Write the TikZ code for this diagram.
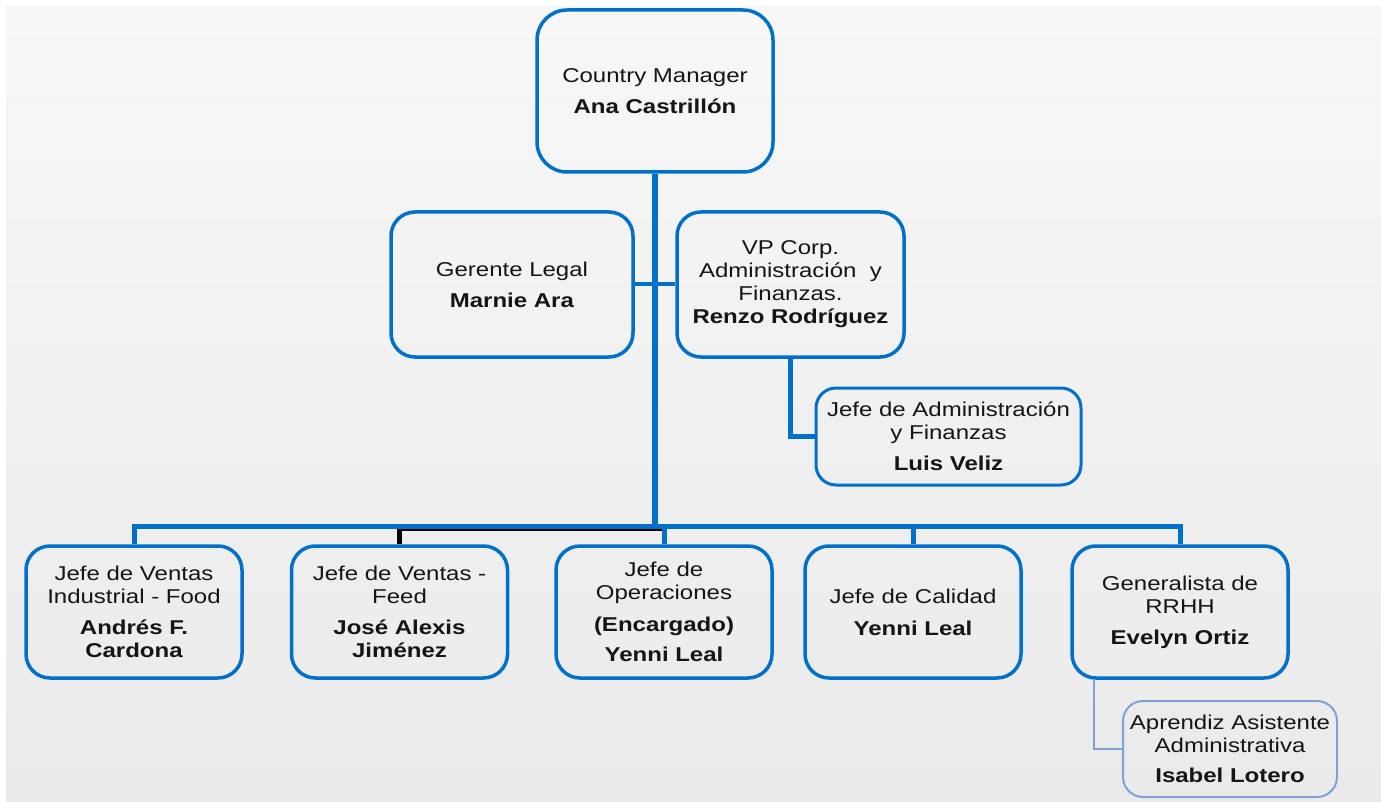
\documentclass[tikz,border=0pt]{standalone}
\usepackage{fontspec}
\setmainfont{Liberation Sans}[FakeStretch=1.2]
\definecolor{cblue}{RGB}{0,112,204}
\definecolor{lblue}{RGB}{125,163,214}
\definecolor{txt}{RGB}{22,20,20}
\definecolor{bgtop}{RGB}{247,247,247}
\definecolor{bgbot}{RGB}{234,234,234}
\begin{document}
\begin{tikzpicture}[x=1pt,y=-1pt,
  box/.style={draw=cblue, line width=3.5pt, rounded corners=24pt, inner sep=0pt,
    align=center, text=txt, font=\fontsize{20}{23}\selectfont},
  lowbox/.style={box, minimum width=216pt, minimum height=132pt},
  conn/.style={draw=cblue, line width=5pt},
]
\useasboundingbox (0,0) rectangle (1381,802);
\fill[white] (0,0) rectangle (1381,802);
\shade[top color=bgtop, bottom color=bgbot] (6,7) rectangle (1381,802);

\coordinate (bus) at (0,526);
\coordinate (blk) at (0,530);

\node[box, minimum width=236pt, minimum height=162pt, rounded corners=30pt] (cm) at (655,91)
  {Country Manager\\[8pt]\textbf{Ana Castrillón}};
\node[box, minimum width=242pt, minimum height=145pt] (gl) at (512,284.5)
  {Gerente Legal\\[8pt]\textbf{Marnie Ara}};
\node[box, minimum width=227pt, minimum height=145pt] (vp) at (790.5,284.5)
  {VP Corp.\\Administración\ \ y\\Finanzas.\\\textbf{Renzo Rodríguez}};
\node[box, line width=3pt, rounded corners=20pt, minimum width=265pt, minimum height=97pt] (ja) at (948.5,436.5)
  {Jefe de Administración\\y Finanzas\\[8pt]\textbf{Luis Veliz}};

\node[lowbox] (b1) at (134,612)
  {Jefe de Ventas\\Industrial - Food\\[8pt]\textbf{Andrés F.}\\\textbf{Cardona}};
\node[lowbox] (b2) at (399.5,612)
  {Jefe de Ventas -\\Feed\\[8pt]\textbf{José Alexis}\\\textbf{Jiménez}};
\node[lowbox] (b3) at (664,612)
  {Jefe de\\Operaciones\\[9pt]\textbf{(Encargado)}\\[7pt]\textbf{Yenni Leal}};
\node[lowbox] (b4) at (913,612)
  {Jefe de Calidad\\[9pt]\textbf{Yenni Leal}};
\node[lowbox] (b5) at (1180,612)
  {Generalista de\\RRHH\\[8pt]\textbf{Evelyn Ortiz}};
\node[box, draw=lblue, line width=2pt, rounded corners=20pt, minimum width=214pt, minimum height=96pt] (ap) at (1230,749)
  {Aprendiz Asistente\\Administrativa\\[7pt]\textbf{Isabel Lotero}};

% connectors
\draw[conn, line width=6pt] (cm.south) -- (cm.south |- bus);
\draw[conn, line width=4pt] (gl.east) -- (vp.west);
\draw[conn, line width=4.5pt] (vp.south) |- (ja.west);
\draw[conn] (b1.north) -- (b1.north |- bus) -- (b5.north |- bus) -- (b5.north);
\draw[conn] (b3.north) -- (b3.north |- bus);
\draw[conn] (b4.north) -- (b4.north |- bus);
\draw[black, line width=5pt] (b2.north) -- (b2.north |- blk);
\draw[black, line width=1.3pt] ([xshift=-2.5pt]b2.north |- blk) -- ([xshift=-2pt]b3.north |- blk);
\draw[lblue, line width=1.6pt] ([xshift=-86pt]b5.south) |- (ap.west);
\end{tikzpicture}
\end{document}
